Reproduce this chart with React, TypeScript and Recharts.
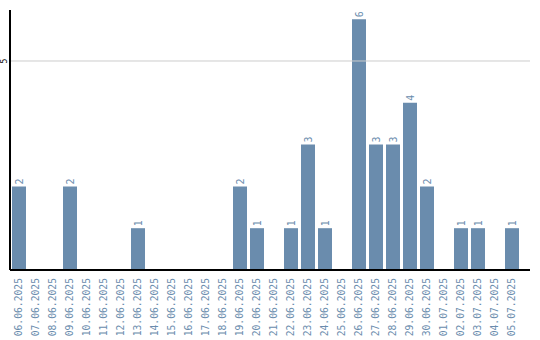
import { BarChart, Bar, XAxis, YAxis, ReferenceLine, LabelList } from 'recharts'

const dates = [
	'06.06.2025', '07.06.2025', '08.06.2025', '09.06.2025', '10.06.2025',
	'11.06.2025', '12.06.2025', '13.06.2025', '14.06.2025', '15.06.2025',
	'16.06.2025', '17.06.2025', '18.06.2025', '19.06.2025', '20.06.2025',
	'21.06.2025', '22.06.2025', '23.06.2025', '24.06.2025', '25.06.2025',
	'26.06.2025', '27.06.2025', '28.06.2025', '29.06.2025', '30.06.2025',
	'01.07.2025', '02.07.2025', '03.07.2025', '04.07.2025', '05.07.2025',
]
const counts = [2, 0, 0, 2, 0, 0, 0, 1, 0, 0, 0, 0, 0, 2, 1, 0, 1, 3, 1, 0, 6, 3, 3, 4, 2, 0, 1, 1, 0, 1]
const yTicks = [5]

const data = dates.map((d, i) => ({ date: d, value: counts[i] }))

const barColor = '#6a8cad'
const mono = 'DejaVu Sans Mono, monospace'

function DateTick({ x, y, payload }: any) {
	return (
		<text
			transform={`translate(${x},${y}) rotate(-90)`}
			x={0}
			y={0}
			dy="0.35em"
			textAnchor="end"
			fill={barColor}
			fontSize={9.7}
			fontFamily={mono}
		>
			{payload.value}
		</text>
	)
}

function ValueTick({ x, y, payload }: any) {
	return (
		<text
			transform={`translate(${x + 2},${y}) rotate(-90)`}
			dy="0.35em"
			textAnchor="middle"
			fill="#000"
			fontSize={8}
			fontFamily={mono}
		>
			{payload.value}
		</text>
	)
}

function ValueLabel({ x, y, width, value }: any) {
	if (!value) return null
	return (
		<text
			transform={`translate(${x + width / 2},${y - 2}) rotate(-90)`}
			dy="0.35em"
			textAnchor="start"
			fill={barColor}
			fontSize={10}
			fontFamily={mono}
		>
			{value}
		</text>
	)
}

export default function App() {
	return (
		<div style={{ position: 'absolute', left: 0, top: 0, background: '#fff' }}>
			<BarChart width={540} height={340} data={data} margin={{ top: 10, right: 10, left: 0, bottom: 0 }} barSize={14}>
				<ReferenceLine y={5} stroke="#cccccc" />
				<XAxis
					dataKey="date"
					interval={0}
					height={70}
					tickLine={false}
					axisLine={{ stroke: '#000', strokeWidth: 2 }}
					tick={<DateTick />}
					padding={{ left: 0, right: 10 }}
				/>
				<YAxis
					width={10}
					domain={[0, 6.22]}
					ticks={yTicks}
					tickLine={false}
					axisLine={{ stroke: '#000', strokeWidth: 2 }}
					tick={<ValueTick />}
				/>
				<Bar dataKey="value" fill={barColor} isAnimationActive={false}>
					<LabelList dataKey="value" content={<ValueLabel />} />
				</Bar>
			</BarChart>
		</div>
	)
}
